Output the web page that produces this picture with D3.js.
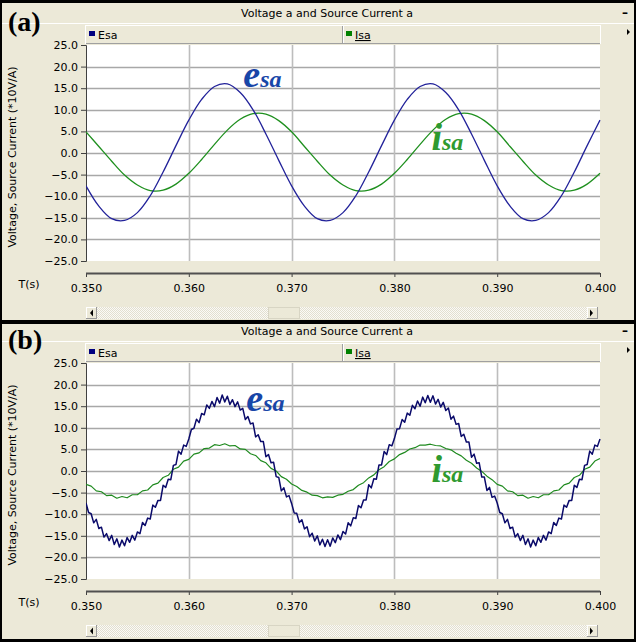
<!DOCTYPE html>
<html>
<head>
<meta charset="utf-8">
<script src="https://cdn.jsdelivr.net/npm/d3@7"></script>
<style>
  html, body { margin: 0; padding: 0; background: #ffffff; }
  svg { display: block; font-family: "DejaVu Sans", "Liberation Sans", sans-serif; }
</style>
</head>
<body>
<svg id="chart" width="636" height="642"></svg>
<script>
// ---- data -------------------------------------------------------------
const chartTitle = "Voltage a and Source Current a";
const yAxisTitle = "Voltage, Source Current (*10V/A)";
const xAxisTitle = "T(s)";
const seriesNames = ["Esa", "Isa"];
const timeStart = 0.35;
const timeEnd = 0.40;
const xTicks = [0.350, 0.360, 0.370, 0.380, 0.390, 0.400];
const yTicks = [-25, -20, -15, -10, -5, 0, 5, 10, 15, 20, 25];

// (a) before compensation: samples every 1.25 ms
const stepA = 0.00125;
const esaA = [
  -7.6, -12.3, -15.2, -15.6, -13.8, -9.9, -4.4, 1.7, 7.6, 12.4, 15.4, 16.0, 14.0, 10.0, 4.4, -1.7,
  -7.6, -12.3, -15.2, -15.6, -13.8, -9.9, -4.4, 1.7, 7.6, 12.4, 15.4, 16.0, 14.0, 10.0, 4.4, -1.7,
  -7.6, -12.3, -15.2, -15.6, -13.8, -9.9, -4.4, 1.7, 7.6
];
const isaA = [
  4.9, 1.5, -1.9, -5.1, -7.4, -8.7, -8.6, -7.2, -4.7, -1.5, 2.0, 5.3, 7.8, 9.1, 9.0, 7.5,
  4.9, 1.5, -1.9, -5.1, -7.4, -8.7, -8.6, -7.2, -4.7, -1.5, 2.0, 5.3, 7.8, 9.1, 9.0, 7.5,
  4.9, 1.5, -1.9, -5.1, -7.4, -8.7, -8.6, -7.2, -4.7
];

// (b) with compensation: voltage every 0.25 ms, current every 0.5 ms
const stepEB = 0.00025;
const esaB = [
  -7.4, -9.6, -9.9, -12.0, -11.2, -13.3, -13.0, -15.3, -14.5, -16.1,
  -14.9, -17.0, -15.7, -17.6, -16.0, -17.3, -15.4, -16.5, -14.9, -16.0,
  -14.1, -14.5, -11.9, -12.6, -10.9, -11.1, -7.9, -8.4, -6.8, -6.8,
  -3.3, -3.8, -1.9, -2.0, 1.3, 1.5, 4.6, 3.9, 6.0, 5.7,
  7.4, 9.6, 9.9, 12.0, 11.2, 13.3, 13.0, 15.3, 14.5, 16.1,
  14.9, 17.0, 15.7, 17.6, 16.0, 17.3, 15.4, 16.5, 14.9, 16.0,
  14.1, 14.5, 11.9, 12.6, 10.9, 11.1, 7.9, 8.4, 6.8, 6.8,
  3.3, 3.8, 1.9, 2.0, -1.3, -1.5, -4.6, -3.9, -6.0, -5.7,
  -7.5, -9.7, -9.8, -11.9, -11.3, -13.4, -12.9, -15.2, -14.4, -16.2,
  -15.0, -17.1, -15.8, -17.5, -15.9, -17.4, -15.5, -16.6, -14.8, -15.9,
  -14.0, -14.6, -12.0, -12.7, -10.8, -11.0, -8.0, -8.5, -6.7, -6.7,
  -3.2, -3.9, -1.8, -1.9, 1.4, 1.4, 4.5, 3.8, 6.1, 5.8,
  7.5, 9.7, 9.8, 11.9, 11.3, 13.4, 12.9, 15.2, 14.4, 16.2,
  15.0, 17.1, 15.8, 17.5, 15.9, 17.4, 15.5, 16.6, 14.8, 15.9,
  14.0, 14.6, 12.0, 12.7, 10.8, 11.0, 8.0, 8.5, 6.7, 6.7,
  3.2, 3.9, 1.8, 1.9, -1.4, -1.4, -4.5, -3.8, -6.1, -5.8,
  -7.4, -9.6, -9.9, -12.0, -11.2, -13.3, -13.0, -15.3, -14.5, -16.1,
  -14.9, -17.0, -15.7, -17.6, -16.0, -17.3, -15.4, -16.5, -14.9, -16.0,
  -14.1, -14.5, -11.9, -12.6, -10.9, -11.1, -7.9, -8.4, -6.8, -6.8,
  -3.3, -3.8, -1.9, -2.0, 1.3, 1.5, 4.6, 3.9, 6.0, 5.7,
  7.4
];
const stepIB = 0.0005;
const isaB = [
  -3.1, -3.5, -4.6, -4.8, -5.7, -5.6, -6.3, -5.9, -6.2, -5.5,
  -5.5, -4.6, -4.4, -3.2, -2.8, -1.5, -1.0, 0.4, 0.9, 2.3,
  2.7, 3.9, 4.2, 5.2, 5.3, 6.1, 5.9, 6.3, 5.8, 5.9,
  5.1, 5.0, 4.0, 3.6, 2.4, 1.9, 0.6, 0.0, -1.3, -1.9,
  -3.0, -3.6, -4.5, -4.9, -5.6, -5.7, -6.2, -6.0, -6.1, -5.6,
  -5.4, -4.7, -4.3, -3.3, -2.7, -1.6, -0.9, 0.3, 1.0, 2.2,
  2.8, 3.8, 4.3, 5.1, 5.4, 6.0, 6.0, 6.2, 5.9, 5.8,
  5.2, 4.9, 4.1, 3.5, 2.5, 1.8, 0.7, -0.1, -1.2, -2.0,
  -3.1, -3.5, -4.6, -4.8, -5.7, -5.6, -6.3, -5.9, -6.2, -5.5,
  -5.5, -4.6, -4.4, -3.2, -2.8, -1.5, -1.0, 0.4, 0.9, 2.3,
  2.9
];

// ---- styling ----------------------------------------------------------
const beige = "#ece9d8";
const gridColor = "#a8a8a8";
const serif = "'Liberation Serif', 'DejaVu Serif', serif";
const sans = "'DejaVu Sans', 'Liberation Sans', sans-serif";
const svg = d3.select("#chart");
const W = 636;

svg.append("rect").attr("width", W).attr("height", 642).attr("fill", beige);

const defs = svg.append("defs");
const dots = defs.append("pattern").attr("id", "dots").attr("width", 2).attr("height", 2)
  .attr("patternUnits", "userSpaceOnUse");
dots.append("rect").attr("width", 2).attr("height", 2).attr("fill", "#fbfaf6");
dots.append("rect").attr("width", 1).attr("height", 1).attr("fill", "#e2dfd0");
dots.append("rect").attr("x", 1).attr("y", 1).attr("width", 1).attr("height", 1).attr("fill", "#e2dfd0");

function samples(values, step) {
  return values.map((v, i) => ({ t: timeStart + i * step, v }));
}

function drawPanel(top, tag, esa, isa, opts) {
  const g = svg.append("g").attr("transform", `translate(0,${top})`);
  const plotL = 86, plotR = 600, plotT = 45, plotB = 261;
  const x = d3.scaleLinear().domain([timeStart, timeEnd]).range([plotL, plotR]);
  const y = d3.scaleLinear().domain([-25, 25]).range([plotB, plotT]);

  // title bar
  g.append("line").attr("x1", 0).attr("x2", W).attr("y1", 23.5).attr("y2", 23.5)
    .attr("stroke", "#ffffff").attr("stroke-width", 1);
  g.append("text").attr("x", 327).attr("y", 17).attr("text-anchor", "middle")
    .attr("font-size", 11).attr("fill", "#000").text(chartTitle);
  g.append("text").attr("x", 625).attr("y", 17).attr("text-anchor", "middle")
    .attr("font-size", 12).attr("font-weight", "bold").attr("fill", "#000").text("–");

  // legend strip
  g.append("rect").attr("x", plotL - 0.5).attr("y", 25.5).attr("width", plotR - plotL + 1).attr("height", 18)
    .attr("fill", beige).attr("stroke", "#ffffff");
  g.append("line").attr("x1", plotL).attr("x2", plotR).attr("y1", 43.5).attr("y2", 43.5)
    .attr("stroke", "#a0a0a0");
  g.append("line").attr("x1", 342.5).attr("x2", 342.5).attr("y1", 26).attr("y2", 43)
    .attr("stroke", "#a0a0a0");
  g.append("line").attr("x1", 343.5).attr("x2", 343.5).attr("y1", 26).attr("y2", 43)
    .attr("stroke", "#ffffff");
  const legend = [
    { name: seriesNames[0], color: "#000080", x: 89, underline: false },
    { name: seriesNames[1], color: "#008000", x: 346, underline: true }
  ];
  legend.forEach(d => {
    g.append("rect").attr("x", d.x).attr("y", 31).attr("width", 6).attr("height", 5).attr("fill", d.color);
    g.append("text").attr("x", d.x + 9).attr("y", 39).attr("font-size", 11).attr("fill", "#000")
      .attr("text-decoration", d.underline ? "underline" : null).text(d.name);
  });
  g.append("path").attr("d", "M627,29 L630,32 L627,35 Z").attr("fill", "#000");

  // plot area
  g.append("rect").attr("x", plotL).attr("y", plotT).attr("width", plotR - plotL).attr("height", plotB - plotT)
    .attr("fill", "#ffffff");

  // grid
  g.append("g").selectAll("line").data(yTicks.filter(v => v > -25 && v < 25)).join("line")
    .attr("x1", plotL).attr("x2", plotR)
    .attr("y1", d => Math.round(y(d)) + 0.5).attr("y2", d => Math.round(y(d)) + 0.5)
    .attr("stroke", gridColor).attr("stroke-width", 1.4);
  g.append("g").selectAll("line").data(xTicks.slice(1, -1)).join("line")
    .attr("x1", d => Math.round(x(d)) + 0.5).attr("x2", d => Math.round(x(d)) + 0.5)
    .attr("y1", plotT).attr("y2", plotB)
    .attr("stroke", "#bdbdbd").attr("stroke-width", 1.6);

  // y axis
  const yAxis = d3.axisLeft(y).tickValues(yTicks).tickFormat(d3.format(".1f")).tickSize(5).tickPadding(3);
  const ya = g.append("g").attr("transform", `translate(${plotL},0)`).call(yAxis);
  ya.select(".domain").attr("stroke", "#404040");
  ya.selectAll(".tick line").attr("stroke", "#404040");
  ya.selectAll(".tick text").attr("font-size", 11).attr("fill", "#000").style("font-family", sans);

  g.append("text")
    .attr("transform", `translate(16,${(plotT + plotB) / 2 + 4}) rotate(-90)`)
    .attr("text-anchor", "middle").attr("font-size", 11).attr("fill", "#000").text(yAxisTitle);

  // x axis below the plot
  const axisY = 273;
  const xAxis = d3.axisTop(x).tickValues(xTicks).tickFormat(d3.format(".3f")).tickSize(4);
  const xa = g.append("g").attr("transform", `translate(0,${axisY + 4})`).call(xAxis);
  xa.select(".domain").remove();
  xa.selectAll(".tick line").attr("stroke", "#404040");
  xa.selectAll(".tick text").attr("font-size", 11).attr("fill", "#000").style("font-family", sans).attr("y", 15);
  g.append("line").attr("x1", plotL).attr("x2", plotR).attr("y1", axisY + 0.5).attr("y2", axisY + 0.5)
    .attr("stroke", "#505050").attr("stroke-width", 2);
  g.append("text").attr("x", 29).attr("y", 288).attr("text-anchor", "middle")
    .attr("font-size", 11).attr("fill", "#000").text(xAxisTitle);

  // scrollbar
  const sbY = 307, sbH = 12;
  g.append("rect").attr("x", 97).attr("y", sbY).attr("width", 490).attr("height", sbH).attr("fill", "url(#dots)");
  [[86, "M93,309.5 L90,313 L93,316.5 Z"], [587, "M590,309.5 L593,313 L590,316.5 Z"]].forEach(([bx, tri]) => {
    g.append("rect").attr("x", bx + 0.5).attr("y", sbY + 0.5).attr("width", 10).attr("height", sbH - 1)
      .attr("fill", beige).attr("stroke", "#ffffff");
    g.append("line").attr("x1", bx).attr("x2", bx + 11).attr("y1", sbY + sbH - 0.5).attr("y2", sbY + sbH - 0.5).attr("stroke", "#9a9a9a");
    g.append("line").attr("x1", bx + 10.5).attr("x2", bx + 10.5).attr("y1", sbY).attr("y2", sbY + sbH).attr("stroke", "#9a9a9a");
    g.append("path").attr("d", tri).attr("fill", "#000");
  });
  g.append("rect").attr("x", 268.5).attr("y", sbY + 0.5).attr("width", 31).attr("height", sbH - 1)
    .attr("fill", beige).attr("stroke", "#d8d5c4");

  // waveforms
  const clipId = "clip" + tag.replace(/\W/g, "");
  defs.append("clipPath").attr("id", clipId).append("rect")
    .attr("x", plotL).attr("y", plotT).attr("width", plotR - plotL + 1).attr("height", plotB - plotT);
  const plot = g.append("g").attr("clip-path", `url(#${clipId})`);
  plot.append("path").datum(samples(isa, opts.stepI))
    .attr("fill", "none").attr("stroke", opts.isaColor).attr("stroke-width", opts.isaWidth)
    .attr("stroke-linejoin", "round")
    .attr("d", d3.line().x(d => x(d.t)).y(d => y(d.v)).curve(opts.curve));
  plot.append("path").datum(samples(esa, opts.stepE))
    .attr("fill", "none").attr("stroke", opts.esaColor).attr("stroke-width", opts.esaWidth)
    .attr("stroke-linejoin", "round")
    .attr("d", d3.line().x(d => x(d.t)).y(d => y(d.v)).curve(opts.curve));

  // curve annotations
  const ann = [
    { main: "e", sub: "sa", color: "#1846a8", t: opts.eLabel[0], v: opts.eLabel[1] },
    { main: "i", sub: "sa", color: "#2f9a2f", t: opts.iLabel[0], v: opts.iLabel[1] }
  ];
  ann.forEach(a => {
    const tx = g.append("text").attr("x", x(a.t)).attr("y", y(a.v))
      .style("font-family", serif)
      .attr("font-style", "italic").attr("font-weight", "bold").attr("fill", a.color);
    tx.append("tspan").attr("font-size", 38).text(a.main);
    tx.append("tspan").attr("font-size", 24).text(a.sub);
  });

  // panel tag
  g.append("text").attr("x", 8).attr("y", 31).style("font-family", serif)
    .attr("font-weight", "bold").attr("font-size", 28).attr("fill", "#000").text(tag);
}

drawPanel(0, "(a)", esaA, isaA, {
  stepE: stepA, stepI: stepA, curve: d3.curveCatmullRom,
  esaColor: "#22229a", isaColor: "#1f901f", esaWidth: 1.3, isaWidth: 1.3,
  eLabel: [0.3653, 15.2], iLabel: [0.3836, 0.6]
});
drawPanel(318, "(b)", esaB, isaB, {
  stepE: stepEB, stepI: stepIB, curve: d3.curveLinear,
  esaColor: "#0a0a6a", isaColor: "#1f8a1f", esaWidth: 1.5, isaWidth: 1.2,
  eLabel: [0.3656, 14.0], iLabel: [0.3836, -2.6]
});

// window frames
const frame = svg.append("g").attr("fill", "#000");
frame.append("rect").attr("x", 0).attr("y", 0).attr("width", W).attr("height", 3);
frame.append("rect").attr("x", 0).attr("y", 320).attr("width", W).attr("height", 4);
frame.append("rect").attr("x", 0).attr("y", 639).attr("width", W).attr("height", 3);
frame.append("rect").attr("x", 0).attr("y", 0).attr("width", 2).attr("height", 642);
frame.append("rect").attr("x", 634).attr("y", 0).attr("width", 2).attr("height", 642);
</script>
</body>
</html>
